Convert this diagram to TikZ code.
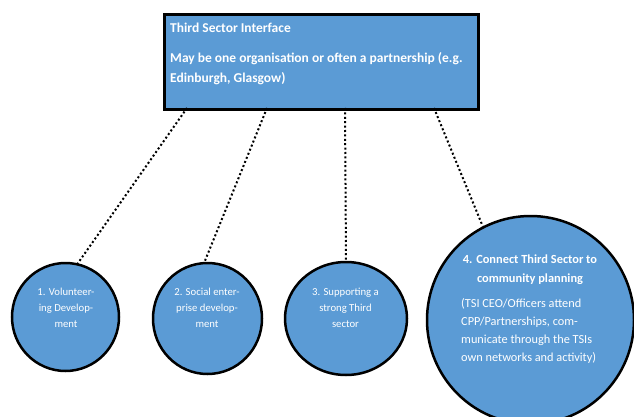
\documentclass[tikz,border=0pt]{standalone}
\usepackage{fontspec}
\setmainfont{Carlito}
\usetikzlibrary{shapes.geometric}
\definecolor{ofblue}{HTML}{5B9BD5}
\tikzset{
  boxshape/.style={draw=black, line width=3pt, fill=ofblue},
  bub/.style={ellipse, draw=black, line width=2.5pt, fill=ofblue, inner sep=0pt},
  conn/.style={line width=2pt, dash pattern=on 2pt off 2.4pt},
  wt/.style={text=white, inner sep=0pt},
}
\begin{document}
\begin{tikzpicture}[x=1pt,y=-1pt]
\useasboundingbox (0,0) rectangle (634,417);
% top box
\node[boxshape, minimum width=314pt, minimum height=95pt, anchor=north west] (box) at (163,13) {};
\node[wt, anchor=base west, font=\fontsize{13.5}{20}\selectfont\bfseries] (boxt1) at (170,33) {Third Sector Interface};
\node[wt, anchor=base west, align=left, font=\fontsize{13.5}{20}\selectfont\bfseries] (boxt2) at (170,83) {May be one organisation or often a partnership (e.g.\\Edinburgh, Glasgow)};
% connector anchors on box
\coordinate (s1) at (187,108);
\coordinate (s2) at (267,108);
\coordinate (s3) at (345,108);
\coordinate (s4) at (434,108);
% circles
\node[bub, minimum width=107pt, minimum height=108pt] (c1) at (65.5,317) {};
\node[bub, minimum width=109pt, minimum height=111pt] (c2) at (207.5,318.5) {};
\node[bub, minimum width=122pt, minimum height=113pt] (c3) at (346,318.5) {};
\node[bub, minimum width=207pt, minimum height=208pt] (c4) at (530.5,320) {};
% connectors
\draw[conn] (s1) -- (c1.77);
\draw[conn] (s2) -- (c2.93);
\draw[conn] (s3) -- (c3.90);
\draw[conn] (s4) -- (c4.117);
% circle texts
\node[wt, anchor=base, align=center, font=\fontsize{10.7}{16}\selectfont] (l1) at (66,327) {1. Volunteer-\\ing Develop-\\ment};
\node[wt, anchor=base, align=center, font=\fontsize{10.7}{16}\selectfont] (l2) at (207,327) {2. Social enter-\\prise develop-\\ment};
\node[wt, anchor=base, align=center, font=\fontsize{10.7}{16}\selectfont] (l3) at (345.5,327.5) {3. Supporting a\\strong Third\\sector};
\node[wt, anchor=base, align=center, font=\fontsize{12.4}{19}\selectfont\bfseries] (l4a) at (530,282) {4. Connect Third Sector to\\community planning};
\node[wt, anchor=base west, align=left, font=\fontsize{12.3}{17.7}\selectfont] (l4b) at (461,361) {(TSI CEO/Officers attend\\CPP/Partnerships, com-\\municate through the TSIs\\own networks and activity)};
\end{tikzpicture}
\end{document}
